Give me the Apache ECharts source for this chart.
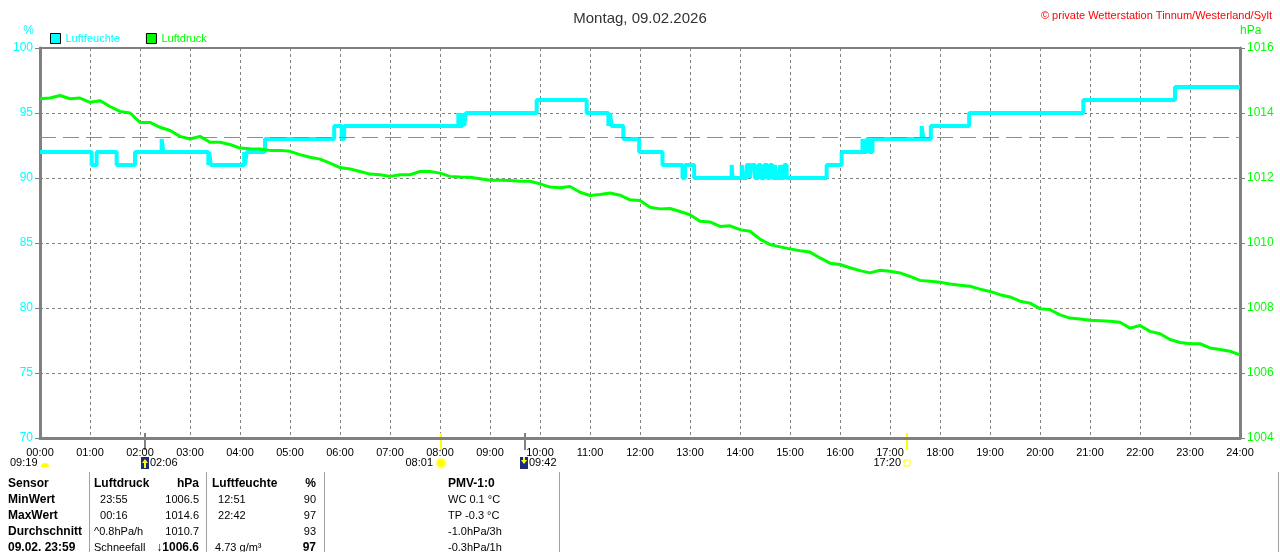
<!DOCTYPE html>
<html>
<head>
<meta charset="utf-8">
<script src="https://cdn.jsdelivr.net/npm/echarts@6/dist/echarts.min.js"></script>
<style>
html,body{margin:0;padding:0;background:#fff;}
#container{width:1280px;height:552px;}
</style>
</head>
<body>
<div id="container"></div>
<script>
var FONT = '"Liberation Sans", Arial, sans-serif';

// Luftdruck (hPa), alle 12 Minuten ab 00:00
var pressureStep = 12;
var pressure = [
  1014.44, 1014.46, 1014.54, 1014.44, 1014.46,
  1014.33, 1014.38, 1014.20, 1014.05, 1014.00,
  1013.71, 1013.71, 1013.56, 1013.46, 1013.28,
  1013.20, 1013.28, 1013.10, 1013.10, 1013.03,
  1012.92, 1012.90, 1012.89, 1012.85, 1012.85,
  1012.82, 1012.72, 1012.64, 1012.58, 1012.46,
  1012.32, 1012.28, 1012.20, 1012.12, 1012.10,
  1012.05, 1012.10, 1012.10, 1012.20, 1012.20,
  1012.15, 1012.05, 1012.03, 1012.02, 1011.98,
  1011.93, 1011.93, 1011.92, 1011.90, 1011.90,
  1011.82, 1011.72, 1011.70, 1011.74, 1011.56,
  1011.46, 1011.49, 1011.54, 1011.47, 1011.33,
  1011.31, 1011.10, 1011.05, 1011.06, 1010.97,
  1010.87, 1010.67, 1010.65, 1010.51, 1010.53,
  1010.41, 1010.36, 1010.12, 1009.95, 1009.88,
  1009.82, 1009.76, 1009.72, 1009.54, 1009.38,
  1009.34, 1009.24, 1009.15, 1009.08, 1009.16,
  1009.13, 1009.08, 1008.97, 1008.85, 1008.82,
  1008.79, 1008.74, 1008.70, 1008.67, 1008.58,
  1008.51, 1008.41, 1008.34, 1008.21, 1008.15,
  1007.98, 1007.95, 1007.79, 1007.69, 1007.66,
  1007.62, 1007.61, 1007.59, 1007.56, 1007.38,
  1007.46, 1007.28, 1007.21, 1007.03, 1006.94,
  1006.90, 1006.90, 1006.77, 1006.72, 1006.67,
  1006.56
];

// Luftfeuchte (%): Zeitpunkt der Aenderung und neuer Wert
var humTimes = [
  '00:00','01:02','01:08','01:32','01:54','02:26','02:28','03:22','03:23','03:25',
  '04:05','04:06','04:08','04:30','05:53','06:02','06:05','08:22','08:24','08:27',
  '08:29','08:31','09:56','10:56','11:22','11:24','11:26','11:40','11:59','12:27',
  '12:51','12:54','13:05','13:50','13:51','14:02','14:04','14:08','14:12','14:14',
  '14:18','14:22','14:25','14:29','14:33','14:36','14:39','14:42','14:44','14:48',
  '14:50','14:53','14:56','15:44','16:02','16:27','16:29','16:32','16:35','16:39',
  '17:38','17:40','17:49','18:35','20:52','22:42','24:00'
];
var humValues = [
  92, 91, 92, 91, 92, 93, 92, 91, 92, 91,
  92, 91, 92, 93, 94, 93, 94, 95, 94, 95,
  94, 95, 96, 95, 94, 95, 94, 93, 92, 91,
  90, 91, 90, 91, 90, 91, 90, 91, 90, 91,
  90, 91, 90, 91, 90, 91, 90, 91, 90, 91,
  90, 91, 90, 91, 92, 93, 92, 93, 92, 93,
  94, 93, 94, 95, 96, 97, 97
];

// Sonne / Mond
var dayLength = '09:19';
var events = [
  {time: '02:06', kind: 'moonrise'},
  {time: '08:01', kind: 'sunrise'},
  {time: '09:42', kind: 'moonset'},
  {time: '17:20', kind: 'sunset'}
];

// Tabelle unten
var tableRows = [
  ['Sensor', 'Luftdruck', 'hPa', 'Luftfeuchte', '%', 'PMV-1:0'],
  ['MinWert', '  23:55', '1006.5', '  12:51', '90', 'WC 0.1 °C'],
  ['MaxWert', '  00:16', '1014.6', '  22:42', '97', 'TP -0.3 °C'],
  ['Durchschnitt', '^0.8hPa/h', '1010.7', '', '93', '-1.0hPa/3h'],
  ['09.02. 23:59', 'Schneefall', '↓1006.6', ' 4.73 g/m³', '97', '-0.3hPa/1h']
];

function toMin(s) { var p = s.split(':'); return (+p[0]) * 60 + (+p[1]); }
function pad(n) { return (n < 10 ? '0' : '') + n; }

var pressureData = pressure.map(function (v, i) { return [i * pressureStep, v]; });
var humData = humTimes.map(function (t, i) { return [toMin(t), humValues[i]]; });

var chart = echarts.init(document.getElementById('container'));
var gridLine = {show: true, lineStyle: {color: '#808080', type: [3, 3], width: 1}};

var option = {
  animation: false,
  title: [
    {text: 'Montag, 09.02.2026', left: 'center', top: 6,
     textStyle: {fontFamily: FONT, fontSize: 15, fontWeight: 'normal', color: '#333'}},
    {text: '© private Wetterstation Tinnum/Westerland/Sylt', right: 3, top: 5,
     textStyle: {fontFamily: FONT, fontSize: 11, fontWeight: 'normal', color: '#ff0000'}}
  ],
  legend: {
    left: 45, top: 28, icon: 'rect', itemWidth: 10, itemHeight: 10, itemGap: 26,
    itemStyle: {borderColor: '#000', borderWidth: 1},
    textStyle: {fontFamily: FONT, fontSize: 11},
    data: [
      {name: 'Luftfeuchte', textStyle: {color: '#00ffff'}},
      {name: 'Luftdruck', textStyle: {color: '#00ff00'}}
    ]
  },
  grid: {left: 40, right: 40, top: 48, bottom: 114, show: true,
         borderColor: '#808080', borderWidth: 2, outerBoundsMode: 'none'},
  xAxis: {
    type: 'value', min: 0, max: 1440, interval: 60,
    axisLine: {lineStyle: {color: '#808080', width: 3}},
    axisTick: {show: false},
    splitLine: gridLine,
    axisLabel: {color: '#000', fontFamily: FONT, fontSize: 11, margin: 9,
                showMinLabel: true, showMaxLabel: true, hideOverlap: false,
                formatter: function (v) { return pad(v / 60) + ':00'; }}
  },
  yAxis: [
    {type: 'value', min: 70, max: 100, interval: 5, position: 'left',
     name: '%', nameLocation: 'end', nameGap: 11,
     nameTextStyle: {color: '#00ffff', fontFamily: FONT, fontSize: 12, align: 'right', padding: [0, 6, 0, 0]},
     axisLine: {show: true, lineStyle: {color: '#808080', width: 3}},
     axisTick: {show: true, length: 5, lineStyle: {color: '#808080'}},
     axisLabel: {color: '#00ffff', fontFamily: FONT, fontSize: 12, margin: 7},
     splitLine: gridLine},
    {type: 'value', min: 1004, max: 1016, interval: 2, position: 'right',
     name: 'hPa', nameLocation: 'end', nameGap: 11,
     nameTextStyle: {color: '#00ff00', fontFamily: FONT, fontSize: 12, align: 'left', padding: [0, 0, 0, 0]},
     axisLine: {show: true, lineStyle: {color: '#808080', width: 3}},
     axisTick: {show: true, length: 5, lineStyle: {color: '#808080'}},
     axisLabel: {color: '#00ff00', fontFamily: FONT, fontSize: 12, margin: 7,
                 formatter: function (v) { return String(v); }},
     splitLine: {show: false}}
  ],
  series: [
    {name: 'Luftfeuchte', type: 'line', yAxisIndex: 0, data: humData, step: 'end',
     symbol: 'none', lineStyle: {color: '#00ffff', width: 4}, itemStyle: {color: '#00ffff'}},
    {name: 'Luftdruck', type: 'line', yAxisIndex: 1, data: pressureData,
     symbol: 'none', lineStyle: {color: '#00ff00', width: 3}, itemStyle: {color: '#00ff00'},
     markLine: {silent: true, symbol: 'none', label: {show: false},
                lineStyle: {color: '#33cc33', type: [16, 7], width: 1},
                data: [{yAxis: 1013.25}]}}
  ]
};
chart.setOption(option);

// Sonnen-/Mondzeiten und Tabelle als Grafik
var yB = chart.convertToPixel({yAxisIndex: 0}, 70);
var g = [];
function txt(x, y, s, align, bold) {
  g.push({type: 'text', x: x, y: y, silent: true,
          style: {text: s, fill: '#000', font: (bold ? 'bold 12px ' : '11px ') + FONT,
                  align: align, textAlign: align, verticalAlign: 'middle', textVerticalAlign: 'middle'}});
}
var ly = yB + 25;
txt(10, ly, dayLength, 'left', false);
g.push({type: 'sector', silent: true, shape: {cx: 45, cy: ly + 4, r0: 0, r: 4, startAngle: Math.PI, endAngle: 2 * Math.PI},
        style: {fill: '#ffff00'}});
events.forEach(function (e) {
  var x = Math.round(chart.convertToPixel({xAxisIndex: 0}, toMin(e.time)));
  var sun = e.kind === 'sunrise' || e.kind === 'sunset';
  g.push({type: 'line', silent: true, shape: {x1: x, y1: yB - 5, x2: x, y2: yB + 12},
          style: {stroke: sun ? '#ffff00' : '#808080', lineWidth: 2}});
  if (e.kind === 'sunrise') {
    txt(x - 8, ly, e.time, 'right', false);
    g.push({type: 'circle', silent: true, shape: {cx: x, cy: ly, r: 6}, style: {fill: '#ffffb0'}});
    g.push({type: 'circle', silent: true, shape: {cx: x, cy: ly, r: 4}, style: {fill: '#ffff00'}});
  } else if (e.kind === 'sunset') {
    txt(x - 6, ly, e.time, 'right', false);
    g.push({type: 'rect', silent: true, shape: {x: x - 3, y: ly - 3, width: 6, height: 6},
            style: {fill: 'none', stroke: '#ffff00', lineWidth: 1}});
  } else {
    var up = e.kind === 'moonrise';
    var rx = up ? x - 4 : x - 5;
    g.push({type: 'rect', silent: true, shape: {x: rx, y: ly - 6, width: 8, height: 12}, style: {fill: '#1c2a7a'}});
    g.push({type: 'polygon', silent: true,
            shape: {points: up ? [[rx + 4, ly - 4], [rx + 1, ly], [rx + 7, ly]] : [[rx + 4, ly + 1], [rx + 1, ly - 3], [rx + 7, ly - 3]]},
            style: {fill: '#ffff00'}});
    g.push({type: 'line', silent: true, shape: {x1: rx + 4, y1: up ? ly : ly - 6, x2: rx + 4, y2: up ? ly + 5 : ly - 2},
            style: {stroke: '#ffff00', lineWidth: 2}});
    txt(rx + 9, ly, e.time, 'left', false);
  }
});

var colX = [8, 94, 199, 212, 316, 448];
var colAlign = ['left', 'left', 'right', 'left', 'right', 'left'];
var rowY = [484, 500, 516, 532, 548];
tableRows.forEach(function (row, r) {
  row.forEach(function (s, c) {
    var bold = r === 0 || c === 0 || (r === 4 && (c === 2 || c === 4));
    txt(colX[c], rowY[r], s, colAlign[c], bold);
  });
});
[89, 206, 324, 559, 1278].forEach(function (x) {
  g.push({type: 'line', silent: true, shape: {x1: x + 0.5, y1: 472, x2: x + 0.5, y2: 552},
          style: {stroke: '#a0a0a0', lineWidth: 1}});
});
chart.setOption({graphic: g});
</script>
</body>
</html>
